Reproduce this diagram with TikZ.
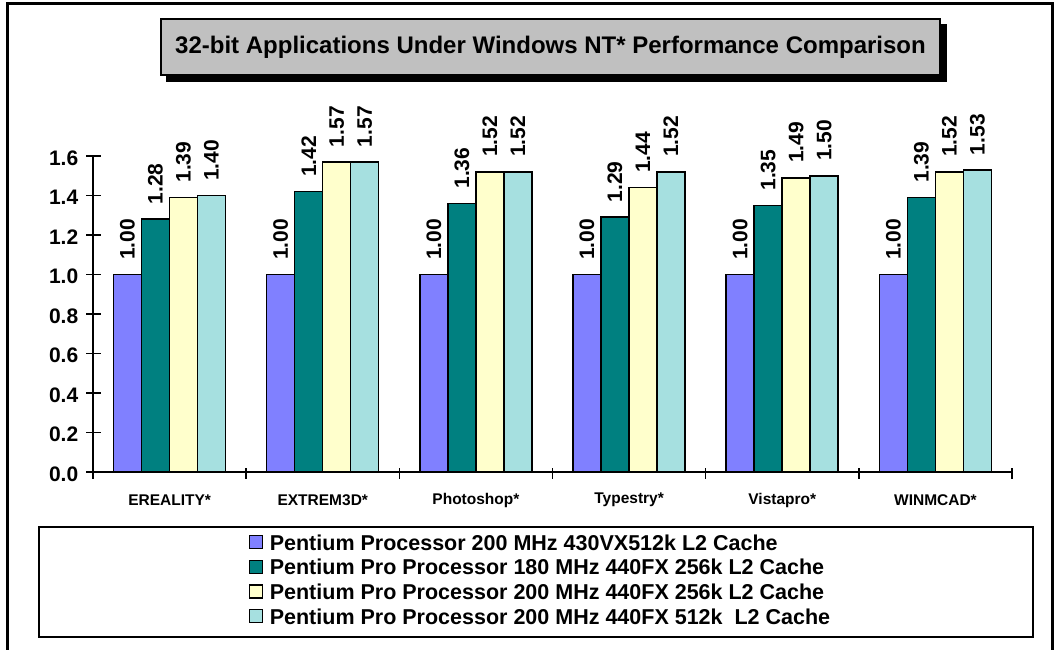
\documentclass[tikz,border=0pt]{standalone}
\usepackage{fontspec}
\setmainfont{Liberation Sans}
\usepackage{tikz}
\usetikzlibrary{positioning,backgrounds}

\definecolor{barA}{HTML}{8080FF}
\definecolor{barB}{HTML}{008080}
\definecolor{barC}{HTML}{FFFFCC}
\definecolor{barD}{HTML}{A6E0E0}
\definecolor{titlegray}{HTML}{C0C0C0}

\begin{document}
\begin{tikzpicture}[x=1pt,y=-1pt]
  \tikzstyle{every path}=[line width=1.6pt]

  \tikzstyle{titlebox}=[draw,fill=titlegray,line width=1.4pt,minimum width=779pt,minimum height=56pt,
    font=\bfseries\fontsize{24}{24}\selectfont]
  \tikzstyle{bar}=[draw=black,line width=1.6pt]
  \tikzstyle{vallabel}=[rotate=90,anchor=west,inner sep=1pt,font=\bfseries\fontsize{21}{21}\selectfont]
  \tikzstyle{ticklabel}=[anchor=east,inner sep=0pt,font=\bfseries\fontsize{21}{21}\selectfont]
  \tikzstyle{catlabel}=[inner sep=0pt,font=\bfseries\fontsize{15.5}{16}\selectfont]
  \tikzstyle{keybox}=[draw,line width=1.2pt,minimum size=13pt,inner sep=0pt]
  \tikzstyle{keytext}=[anchor=west,inner sep=0pt,font=\bfseries\fontsize{21.5}{22}\selectfont]

  \useasboundingbox (0,0) rectangle (1055,650);

  % outer frame
  \draw[line width=3pt] (7.5,650) -- (7.5,3.5) -- (1052.5,3.5) -- (1052.5,650);

  % title
  \node[titlebox] (title) at (550.5,47) {32-bit Applications Under Windows NT* Performance Comparison};
  \begin{scope}[on background layer]
  \fill[black] ([xshift=6pt,yshift=-6pt]title.south west) rectangle ([xshift=6pt,yshift=-6pt]title.north east);
  \end{scope}

  % axes
  \coordinate (origin) at (93,472);
  \coordinate (ytop) at (93,156);
  \coordinate (xend) at (1012,472);
  \draw (ytop) -- (origin) -- (xend);
  \foreach \t [count=\k from 0] in {0.0,0.2,0.4,0.6,0.8,1.0,1.2,1.4,1.6} {
    \draw (86,472-\k*39.5) -- (101,472-\k*39.5);
    \node[ticklabel] (tick\k) at (79,474-\k*39.5) {\t};
  }
  \foreach \k in {0,...,6}
    \draw (93+\k*153.17,468) -- (93+\k*153.17,479);

  % bars
  \foreach \cat/\a/\b/\c/\d [count=\i from 0] in {
      EREALITY*/1.00/1.28/1.39/1.40,
      EXTREM3D*/1.00/1.42/1.57/1.57,
      Photoshop*/1.00/1.36/1.52/1.52,
      Typestry*/1.00/1.29/1.44/1.52,
      Vistapro*/1.00/1.35/1.49/1.50,
      WINMCAD*/1.00/1.39/1.52/1.53} {
    \pgfmathsetmacro\gx{93+\i*153.17}
    \foreach \v/\col [count=\j from 0] in {\a/barA,\b/barB,\c/barC,\d/barD} {
      \pgfmathsetmacro\bx{\gx+20.5+\j*28}
      \pgfmathsetmacro\by{472-\v*197.5}
      \draw[bar,fill=\col] (\bx,472) rectangle (\bx+28,\by);
      \node[vallabel] (val\i-\j) at (\bx+14,\by-13) {\v};
    }
    \node[catlabel] (cat\i) at (\gx+76.6,500) {\cat};
  }

  % legend
  \draw[line width=1.6pt] (39,527) rectangle (1033,637);
  \foreach \txt/\col [count=\r from 0] in {
      Pentium Processor 200 MHz 430VX512k L2 Cache/barA,
      Pentium Pro Processor 180 MHz 440FX 256k L2 Cache/barB,
      Pentium Pro Processor 200 MHz 440FX 256k L2 Cache/barC,
      Pentium Pro Processor 200 MHz 440FX 512k\ \ L2 Cache/barD} {
    \node[keybox,fill=\col] (key\r) at (256,542+\r*24.7) {};
    \node[keytext] (keytxt\r) at (269,542.5+\r*24.7) {\txt};
  }
\end{tikzpicture}
\end{document}
